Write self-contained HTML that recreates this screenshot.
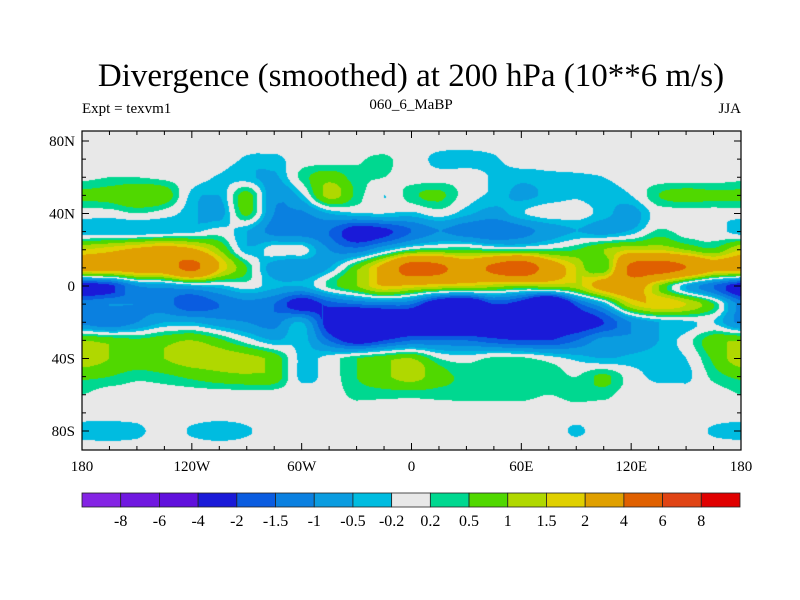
<!DOCTYPE html>
<html><head><meta charset="utf-8">
<style>
body{margin:0;background:#fff;}
#wrap{position:relative;width:800px;height:600px;background:#fff;font-family:"Liberation Serif",serif;color:#000;overflow:hidden;}
.t{position:absolute;white-space:nowrap;}
</style></head><body>
<div id="wrap">
<div class="t" style="left:0;width:822px;text-align:center;top:58px;font-size:33px;">Divergence (smoothed) at 200 hPa (10**6 m/s)</div>
<div class="t" style="left:82px;top:101px;font-size:15px;">Expt = texvm1</div>
<div class="t" style="left:311px;width:200px;text-align:center;top:97px;font-size:15px;">060_6_MaBP</div>
<div class="t" style="left:700px;width:41px;text-align:right;top:101px;font-size:15px;">JJA</div>
<canvas id="map" width="659" height="319" style="position:absolute;left:82px;top:131px;"></canvas>
<svg id="ov" width="800" height="600" style="position:absolute;left:0;top:0;"></svg>
</div>
<script>
const lons=[-180,-165,-150,-135,-120,-105,-90,-75,-60,-45,-30,-15,0,15,30,45,60,75,90,105,120,135,150,165,180];
const lats=[90,80,70,60,50,40,30,20,10,0,-10,-20,-30,-40,-50,-60,-70,-80,-90];
const row90N=[0,0,0,0,0,0,0,0,0,0,0,0,0,0,0,0,0,0,0,0,0,0,0,0,0];
const row80N=[0,0,0,0,0,0,0,0,0,0,0,0,0,0,0,0,0,0,0,0,0,0,0,0,0];
const row70N=[0,0,0,0,0,0,-0.25,-0.3,0,0,0.15,0.25,0,-0.3,-0.35,-0.25,0,0,0,0,0,0,0,0,0];
const row60N=[0.1,0.2,0.2,0.1,0,-0.25,-0.4,-0.6,0.3,0.8,0.3,0.2,0,0,0,-0.25,-0.4,-0.3,-0.25,-0.2,0,0,0,0,0.1];
const row50N=[0.6,0.7,1.0,0.8,-0.3,-0.5,0.7,-0.9,-0.3,1.2,0.4,-0.2,0.4,0.6,0,-0.3,-0.6,-0.4,-0.25,-0.4,-0.2,0.5,0.7,0.6,0.6];
const row40N=[0,0,0.2,0,-0.4,-0.7,0.6,-1.0,-1.1,-0.5,-0.25,-0.2,-0.3,0,-0.4,-0.7,-0.25,0,0,-0.35,-0.7,0,0,0,0];
const row30N=[-0.4,-0.5,-0.5,-0.4,-0.3,0,-0.5,-1.2,-1.3,-1.5,-2.5,-2.2,-1.5,-1.0,-1.3,-1.5,-1.2,-0.8,-0.5,-0.7,-0.4,0.3,0,0,-0.4];
const row20N=[1.5,1.8,2.2,2.5,2.2,1.0,-0.4,0,0,-1.0,-1.3,-0.5,0.3,0.5,0.5,0.3,0.3,0.3,0.5,1.0,1.5,1.5,1.0,0.6,1.5];
const row10N=[2.5,2.5,2.8,3.0,4.5,2.0,0.5,-0.8,-1.0,-0.5,0.8,2.5,5.0,4.5,3.0,4.5,5.5,3.0,1.5,0.5,4.5,5.0,4.0,2.5,2.5];
const row0=[-2.5,-2.2,-1.0,-0.8,-0.5,-0.3,0,-0.4,-0.5,0.3,1.0,2.0,1.8,1.6,1.5,1.2,1.0,1.2,1.3,2.5,3.0,1.0,-0.5,-1.5,-2.5];
const row10S=[-1.2,-1.0,-1.0,-1.3,-1.8,-1.5,-1.2,-1.5,-2.5,-1.8,-1.5,-1.3,-1.5,-3.0,-3.5,-2.0,-2.5,-4.0,-1.8,-0.5,1.5,2.0,1.5,0.5,-1.2];
const row20S=[-1.2,-1.5,-1.0,-0.5,-0.5,-0.8,-1.0,-1.2,-0.5,-2.5,-4.0,-3.5,-3.0,-3.5,-3.5,-3.0,-3.0,-2.5,-2.5,-2.0,-1.0,-0.5,-0.3,-0.2,-1.2];
const row30S=[1.0,0.8,0.6,0.8,1.0,0.6,0,-0.5,-0.3,-1.5,-2.5,-2.0,-1.5,-1.5,-1.5,-1.8,-2.0,-2.0,-1.5,-0.8,-0.8,-0.5,0,0.8,1.0];
const row40S=[1.3,1.0,0.8,1.0,1.3,1.3,1.2,0.8,-0.3,0,0.5,0.8,1.0,0.2,0,0.3,0.3,0,-0.3,-0.5,-0.4,-0.3,-0.2,0.6,1.3];
const row50S=[0.6,0.5,0.3,0.4,0.6,0.8,0.9,0.8,-0.3,0,0.5,0.9,1.2,0.7,0.4,0.5,0.4,0.4,0.2,0.6,0,-0.3,-0.3,0.3,0.6];
const row60S=[0.2,0,0,0,0,0,0,0,0,0,0.3,0.3,0.3,0.3,0.3,0.3,0.3,0.2,0.3,0.3,0,0,0,0,0.2];
const row70S=[0,0,0,0,0,0,0,0,0,0,0,0,0,0,0,0,0,0,0,0,0,0,0,0,0];
const row80S=[-0.35,-0.4,-0.3,0,-0.25,-0.4,-0.25,0,0,0,0,0,0,0,0,0,0,0,-0.25,0,0,0,0,-0.25,-0.35];
const row90S=[0,0,0,0,0,0,0,0,0,0,0,0,0,0,0,0,0,0,0,0,0,0,0,0,0];
const levels=[-8,-6,-4,-2,-1.5,-1,-0.5,-0.2,0.2,0.5,1,1.5,2,4,6,8];
const levelLabels=["-8","-6","-4","-2","-1.5","-1","-0.5","-0.2","0.2","0.5","1","1.5","2","4","6","8"];
const colors=["#8424e4","#7018e0","#6010dc","#1a1ad8","#0a5ce0","#0a80e0","#0a9ce0","#00bce0","#e8e8e8","#00d890","#50d800","#b0d800","#e0d000","#e0a000","#e06000","#e04414","#e00000"];
const lonTicks=[-180,-120,-60,0,60,120,180];
const lonLabels=["180","120W","60W","0","60E","120E","180"];
const latTicks=[80,40,0,-40,-80];
const latLabels=["80N","40N","0","40S","80S"];

const grid=[row90N,row80N,row70N,row60N,row50N,row40N,row30N,row20N,row10N,row0,row10S,row20S,row30S,row40S,row50S,row60S,row70S,row80S,row90S];
const X0=82,X1=741,Y0=131,Y1=450;
function xOf(lon){return X0+(lon+180)/360*(X1-X0);}
function yOf(lat){return 286-lat*1.8125;}
function latOf(y){return (286-y)/1.8125;}
function lonOf(x){return -180+(x-X0)/(X1-X0)*360;}
function cr(p0,p1,p2,p3,t){
  const v=0.5*((2*p1)+(-p0+p2)*t+(2*p0-5*p1+4*p2-p3)*t*t+(-p0+3*p1-3*p2+p3)*t*t*t);
  return Math.max(Math.min(p1,p2),Math.min(Math.max(p1,p2),v));
}
function g(r,c){r=Math.max(0,Math.min(grid.length-1,r));c=Math.max(0,Math.min(lons.length-1,c));return grid[r][c];}
function sample(lon,lat){
  const fc=(lon-lons[0])/(lons[1]-lons[0]);
  const fr=(lats[0]-lat)/(lats[0]-lats[1]);
  const c=Math.floor(fc),r=Math.floor(fr),tc=fc-c,tr=fr-r;
  const rowv=[];
  for(let i=-1;i<=2;i++){rowv.push(cr(g(r+i,c-1),g(r+i,c),g(r+i,c+1),g(r+i,c+2),tc));}
  return cr(rowv[0],rowv[1],rowv[2],rowv[3],tr);
}
function colorIdx(v){let i=0;while(i<levels.length&&v>=levels[i])i++;return i;}
function hex(h){return [parseInt(h.substr(1,2),16),parseInt(h.substr(3,2),16),parseInt(h.substr(5,2),16)];}
const rgb=colors.map(hex);
const cv=document.getElementById('map'),ctx=cv.getContext('2d');
const W=cv.width,H=cv.height,img=ctx.createImageData(W,H);
for(let py=0;py<H;py++){const lat=latOf(Y0+py+0.5);
  for(let px=0;px<W;px++){const lon=lonOf(X0+px+0.5);
    const c=rgb[colorIdx(sample(lon,lat))];const k=(py*W+px)*4;
    img.data[k]=c[0];img.data[k+1]=c[1];img.data[k+2]=c[2];img.data[k+3]=255;}}
ctx.putImageData(img,0,0);

const NS='http://www.w3.org/2000/svg',ov=document.getElementById('ov');
function mk(tag,attrs,parent){const e=document.createElementNS(NS,tag);for(const k in attrs)e.setAttribute(k,attrs[k]);(parent||ov).appendChild(e);return e;}
const frame=mk('rect',{x:X0,y:Y0,width:X1-X0,height:Y1-Y0,fill:'none',stroke:'#000','stroke-width':1.2});


for(let lon=-180;lon<=180;lon+=15){const x=xOf(lon);const L=(lon%60===0)?7:4;
  const t1=mk('line',{x1:x,y1:Y1,x2:x,y2:Y1-L,stroke:'#000'});
  
  
  const t2=mk('line',{x1:x,y1:Y0,x2:x,y2:Y0+L,stroke:'#000'});
  
  }
for(let lat=-80;lat<=80;lat+=10){const y=yOf(lat);const L=(lat%40===0)?7:4;
  const t1=mk('line',{x1:X0,y1:y,x2:X0+L,y2:y,stroke:'#000'});
  
  
  const t2=mk('line',{x1:X1,y1:y,x2:X1-L,y2:y,stroke:'#000'});
  
  }
lonTicks.forEach((lon,i)=>{const t=mk('text',{x:xOf(lon),y:471,'text-anchor':'middle','font-size':15,'font-family':'Liberation Serif, serif'});t.textContent=lonLabels[i];
  
  });
latTicks.forEach((lat,i)=>{const t=mk('text',{x:75,y:yOf(lat)+5,'text-anchor':'end','font-size':15,'font-family':'Liberation Serif, serif'});t.textContent=latLabels[i];
  
  });
const CB0=82,CB1=740,CBY=493,CBH=14,bw=(CB1-CB0)/colors.length;
colors.forEach((c,i)=>{const r=mk('rect',{x:CB0+i*bw,y:CBY,width:bw,height:CBH,fill:c,stroke:'#222','stroke-width':0.8});
  
  });
levelLabels.forEach((s,i)=>{const t=mk('text',{x:CB0+(i+1)*bw,y:526,'text-anchor':'middle','font-size':16,'font-family':'Liberation Serif, serif'});t.textContent=s;
  
  });
</script>
</body></html>
